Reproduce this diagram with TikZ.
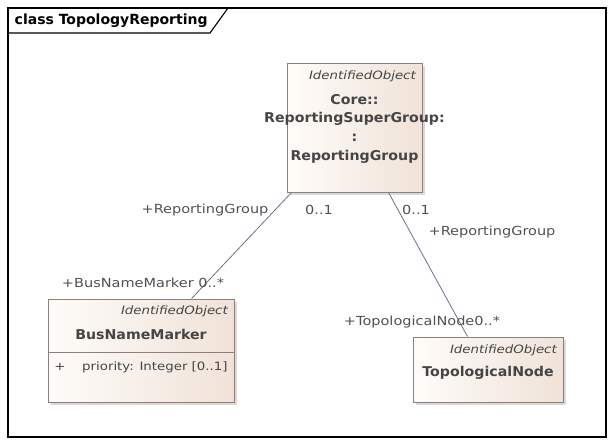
\documentclass[tikz,border=0pt]{standalone}
\usepackage{fontspec}
\setmainfont{DejaVu Sans}[FakeStretch=1.16]
\newfontfamily\namefont{DejaVu Sans}[FakeStretch=1.05]
\newfontfamily\titlefont{DejaVu Sans}
\usetikzlibrary{shadows,calc}
\definecolor{boxline}{HTML}{8F7F7C}
\definecolor{boxlight}{HTML}{FEFCF9}
\definecolor{boxdark}{HTML}{F0E2D8}
\definecolor{conn}{HTML}{6E6E8C}
\definecolor{lbl}{HTML}{505050}
\definecolor{nametxt}{HTML}{454545}
\tikzset{
  umlbox/.style={draw=boxline, line width=0.9pt, left color=boxlight, right color=boxdark,
    inner sep=0pt, drop shadow={shadow xshift=2.5pt, shadow yshift=-2.5pt, opacity=0.3, fill=gray}},
  stereo/.style={font=\fontsize{11.5}{12}\selectfont\itshape, text=nametxt, inner sep=0pt},
  cname/.style={font=\namefont\fontsize{13.5}{14}\selectfont\bfseries, text=nametxt, inner sep=0pt},
  attr/.style={font=\fontsize{11.5}{13}\selectfont, text=nametxt, inner sep=0pt},
  rolelbl/.style={font=\fontsize{12.5}{13}\selectfont, text=lbl, inner sep=0pt},
  assoc/.style={draw=conn, line width=0.8pt}
}
\begin{document}
\begin{tikzpicture}[x=1pt,y=-1pt]
\useasboundingbox (0,0) rectangle (614,445);
% frame
\draw[line width=1.1pt] (8,8) rectangle (606,437);
\draw[line width=1.1pt] (8,33) -- (210,33) -- (228,8);
\node[anchor=west, font=\titlefont\fontsize{14}{15}\selectfont\bfseries, inner sep=0pt] (title) at (14.5,20.5) {class TopologyReporting};

% boxes
\node[umlbox, minimum width=135pt, minimum height=129pt] (rsg) at (354.5,127.5) {};
\node[umlbox, minimum width=186pt, minimum height=103pt] (bnm) at (141,350.5) {};
\node[umlbox, minimum width=150pt, minimum height=65pt] (tn) at (488,369.5) {};

% top box text
\node[stereo, anchor=east] (rsgst) at (416,76) {IdentifiedObject};
\node[cname] (rsg1) at (354.5,100) {Core::};
\node[cname] (rsg2) at (354.5,119) {ReportingSuperGroup:};
\node[cname] (rsg3) at (354.5,138) {:};
\node[cname] (rsg4) at (354.5,157) {ReportingGroup};

% BusNameMarker text
\node[stereo, anchor=east] (bnmst) at (228,311) {IdentifiedObject};
\node[cname] (bnmname) at (141,334) {BusNameMarker};
\draw[boxline, line width=0.9pt] (bnm.west |- 0,352) -- (bnm.east |- 0,352);
\node[attr] (bnmplus) at (60,367) {+};
\node[attr, anchor=west] (bnmattr) at (82,367) {priority: Integer [0..1]};

% TopologicalNode text
\node[stereo, anchor=east] (tnst) at (557,350) {IdentifiedObject};
\node[cname] (tnname) at (488,373) {TopologicalNode};

% connectors
\coordinate (a1) at ($(rsg.south west)+(5,0)$);
\coordinate (a2) at ($(bnm.north west)+(144,0)$);
\coordinate (b1) at ($(rsg.south east)+(-34,0)$);
\coordinate (b2) at ($(tn.north west)+(55,0)$);
\draw[assoc] (a1) -- (a2);
\draw[assoc] (b1) -- (b2);

% labels
\node[rolelbl] (l1) at (205,210) {+ReportingGroup};
\node[rolelbl] (l2) at (319,210) {0..1};
\node[rolelbl] (l3) at (416,210) {0..1};
\node[rolelbl] (l4) at (492,232) {+ReportingGroup};
\node[rolelbl] (l5) at (143,283) {+BusNameMarker 0..*};
\node[rolelbl] (l6) at (422,322) {+TopologicalNode0..*};
\end{tikzpicture}
\end{document}
